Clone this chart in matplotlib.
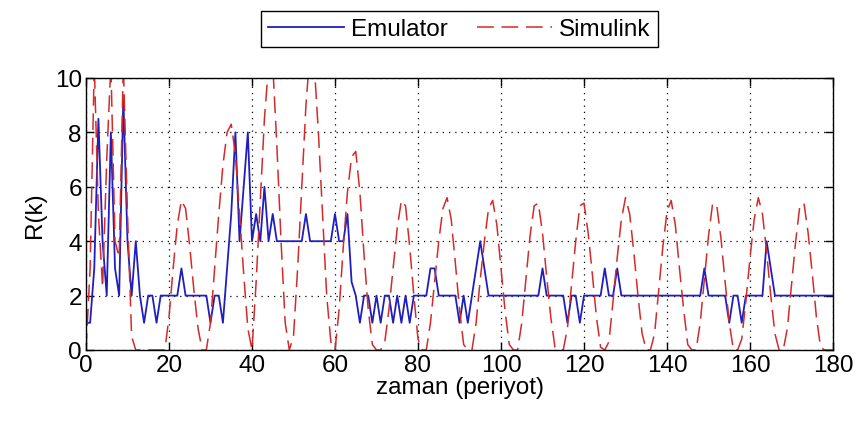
import numpy as np
import matplotlib
matplotlib.use("Agg")
import matplotlib.pyplot as plt

# zaman ekseni (periyot)
k = np.arange(0, 181)

emulator = [
    1, 1, 3, 8.5, 4, 2, 8, 3, 2, 9.3,
    4, 2, 4, 2, 1, 2, 2, 1, 2, 2,
    2, 2, 2, 3, 2, 2, 2, 2, 2, 2,
    1, 2, 2, 1, 3, 5, 8, 4, 6, 8,
    4, 5, 4, 6, 4, 5, 4, 4, 4, 4,
    4, 4, 4, 5, 4, 4, 4, 4, 4, 4,
    5, 4, 4, 5, 2.5, 2, 1, 2, 2, 1,
    2, 1, 2, 2, 1, 2, 1, 2, 1, 2,
    2, 2, 2, 3, 3, 2, 2, 2, 2, 2,
    1, 2, 1, 2, 3, 4, 3, 2, 2, 2,
    2, 2, 2, 2, 2, 2, 2, 2, 2, 2,
    3, 2, 2, 2, 2, 2, 1, 2, 2, 1,
    2, 2, 2, 2, 2, 3, 2, 2, 3, 2,
    2, 2, 2, 2, 2, 2, 2, 2, 2, 2,
    2, 2, 2, 2, 2, 2, 2, 2, 2, 3,
    2, 2, 2, 2, 2, 1, 2, 2, 1, 2,
    2, 2, 2, 2, 4, 3, 2, 2, 2, 2,
    2, 2, 2, 2, 2, 2, 2, 2, 2, 2,
    2,
]

simulink = [
    0, 3, 10.5, 5, 2.3, 7, 10.5, 4, 3.4, 10.5,
    5, 0.5, 0, 0, 0, 0, 0, 0, 0, 0,
    1.2, 3, 4.6, 5.5, 5.2, 3.8, 2.2, 0.8, 0, 0,
    1.0, 3.0, 5.0, 6.8, 8.0, 8.3, 7.2, 5.0, 2.8, 0.8,
    0, 2.5, 5.5, 8.5, 10.5, 10.5, 7.5, 4, 1, 0,
    0.5, 3, 6, 9, 11, 10.5, 8, 5, 2, 0.3,
    0, 1.5, 3.8, 5.8, 7.1, 7.3, 5.8, 3.5, 1.5, 0.2,
    0, 0, 0.3, 1.5, 3, 4.5, 5.5, 5.3, 3.8, 2,
    0.4, 0, 0, 1, 2.5, 4, 5.2, 5.6, 4.8, 3.2,
    1.5, 0.2, 0, 0, 1, 2.6, 4.0, 5.2, 5.5, 4.6,
    3.0, 1.4, 0.2, 0, 0, 1.0, 2.6, 4.2, 5.3, 5.4,
    4.3, 2.7, 1.2, 0.1, 0, 0, 0.8, 2.4, 4.0, 5.3,
    5.4, 4.3, 2.8, 1.2, 0.1, 0, 0.3, 1.8, 3.4, 4.8,
    5.6, 5.0, 3.6, 2.0, 0.6, 0, 0, 0.6, 2.2, 3.8,
    5.1, 5.5, 4.6, 3.0, 1.5, 0.2, 0, 0, 1.0, 2.6,
    4.2, 5.4, 5.3, 4.1, 2.5, 1.0, 0, 0, 0.4, 1.8,
    3.4, 4.8, 5.6, 5.0, 3.6, 2.0, 0.6, 0, 0, 0.8,
    2.4, 4.0, 5.3, 5.4, 4.3, 2.8, 1.2, 0.1, 0, 0,
    0,
]

plt.rcParams["font.family"] = ["Liberation Sans", "DejaVu Sans"]
plt.rcParams["font.size"] = 17.5

fig = plt.figure(figsize=(8.58, 4.27), dpi=100)
ax = fig.add_axes([0.1002, 0.178, 0.8707, 0.637])

ax.plot(k, emulator, color="#1f1fc0", linewidth=1.3, label="Emulator")
ax.plot(k, simulink, color="#d42a2a", linewidth=1.1, dashes=(11, 5), label="Simulink")

ax.set_xlim(0, 180)
ax.set_ylim(0, 10)
ax.set_xticks(np.arange(0, 181, 20))
ax.set_yticks(np.arange(0, 11, 2))
ax.grid(True, color="black", linestyle=(0, (1, 4)), linewidth=0.9)
ax.tick_params(direction="in", top=True, right=True, length=6, width=1, pad=3)
for s in ax.spines.values():
    s.set_linewidth(1)

ax.set_xlabel("zaman (periyot)", labelpad=0)
ax.set_ylabel("R(k)", labelpad=6)

leg = ax.legend(loc="center", bbox_to_anchor=(0.5, 1.18), ncol=2, fancybox=False,
                edgecolor="black", framealpha=1, handlelength=3.1, handletextpad=0.3,
                columnspacing=1.2, borderpad=0.3, borderaxespad=0)
leg.get_frame().set_linewidth(1)

fig.savefig("out.png", dpi=100)
